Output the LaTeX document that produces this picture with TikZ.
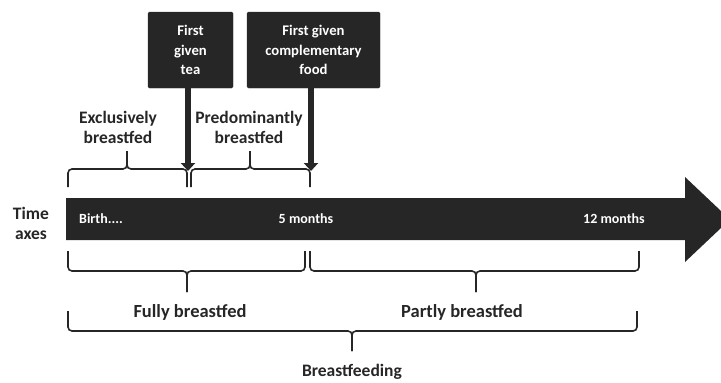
\documentclass[tikz,border=0pt]{standalone}
\usepackage{fontspec}
\setmainfont{Carlito}
\usetikzlibrary{arrows.meta}
\definecolor{dk}{HTML}{262626}
\tikzset{
  box/.style={fill=dk, draw=dk, rounded corners=1.5pt, minimum width=85pt, minimum height=76pt, inner sep=0pt, text=white, align=center, font=\bfseries\fontsize{14.7}{19.5}\selectfont},
  lbl/.style={align=center, text=dk, font=\bfseries\fontsize{17.5}{20}\selectfont, inner sep=0pt},
  biglbl/.style={lbl, font=\bfseries\fontsize{18.5}{20}\selectfont},
  bartext/.style={text=white, font=\bfseries\fontsize{14}{15}\selectfont, inner sep=0pt},
  brc/.style={draw=dk, line width=1.6pt, rounded corners=4pt},
  pointer/.style={draw=dk, line width=6.5pt, -{Triangle[width=14pt,length=8pt]}}
}
\begin{document}
\begin{tikzpicture}[x=1pt,y=-1pt]
\useasboundingbox (0,0) rectangle (721,383);
% main time arrow
\fill[dk] (66,198) -- (685,198) -- (685,177) -- (730,219.5) -- (685,262) -- (685,240) -- (66,240) -- cycle;
\node[bartext, anchor=west] (birth) at (79,219) {Birth....};
\node[bartext] (five) at (306,219) {5 months};
\node[bartext] (twelve) at (614,219) {12 months};
\node[lbl] (time) at (31,223) {Time\\axes};
% boxes
\node[box] (tea) at (190.5,50) {First\\given\\tea};
\node[box, minimum width=133pt] (food) at (313.5,50) {First given\\complementary\\food};
\coordinate (teaend) at (188,171);
\coordinate (foodend) at (311,171);
\draw[pointer] (tea.south -| teaend) -- (teaend);
\draw[pointer] (food.south -| foodend) -- (foodend);
% top braces
\draw[brc] (68,187) -- (68,169) -- (127,169) -- (127,151);
\draw[brc] (187,187) -- (187,169) -- (127,169) -- (127,151);
\draw[brc] (191,187) -- (191,169) -- (250,169) -- (250,151);
\draw[brc] (310,187) -- (310,169) -- (250,169) -- (250,151);
\node[lbl] (excl) at (118,127) {Exclusively\\breastfed};
\node[lbl] (pred) at (249,127) {Predominantly\\breastfed};
% bottom braces
\draw[brc] (68,251) -- (68,271) -- (187,271) -- (187,292);
\draw[brc] (305,251) -- (305,271) -- (187,271) -- (187,292);
\draw[brc] (310,251) -- (310,271) -- (476,271) -- (476,292);
\draw[brc] (639,251) -- (639,271) -- (476,271) -- (476,292);
\node[biglbl] (fully) at (190,312) {Fully breastfed};
\node[biglbl] (partly) at (462,312) {Partly breastfed};
\draw[brc] (68,311) -- (68,331) -- (352,331) -- (352,351);
\draw[brc] (637,311) -- (637,331) -- (352,331) -- (352,351);
\node[lbl] (bf) at (352,372) {Breastfeeding};
\end{tikzpicture}
\end{document}
